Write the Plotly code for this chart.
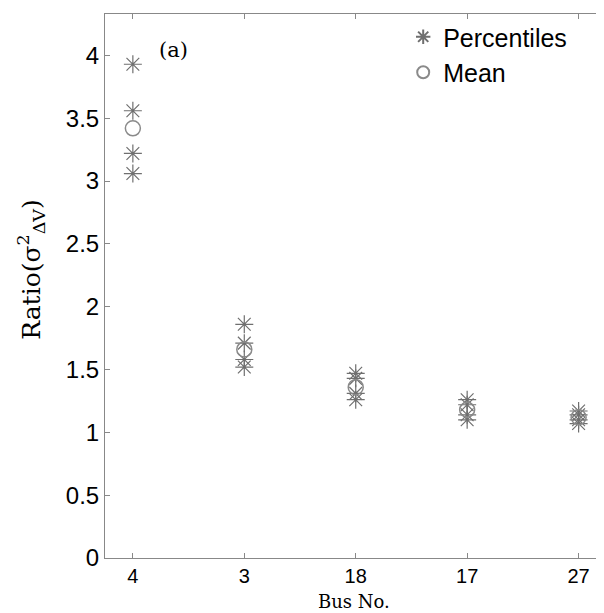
import plotly.graph_objects as go

bus_labels = ["4", "3", "18", "17", "27"]
percentile_values = [
    [3.93, 3.56, 3.22, 3.06],
    [1.86, 1.71, 1.58, 1.52],
    [1.47, 1.43, 1.31, 1.26],
    [1.26, 1.22, 1.14, 1.10],
    [1.17, 1.14, 1.10, 1.07],
]
mean_values = [3.42, 1.66, 1.36, 1.18, 1.12]
y_ticks = [0, 0.5, 1, 1.5, 2, 2.5, 3, 3.5, 4]

px, py = [], []
for i, vals in enumerate(percentile_values):
    for v in vals:
        px.append(i)
        py.append(v)

gray = "#6f6f6f"
fig = go.Figure()
fig.add_trace(go.Scatter(
    x=px, y=py, mode="markers", name="Percentiles",
    marker=dict(symbol="asterisk-open", size=15, line=dict(color=gray, width=1.2), color=gray),
))
fig.add_trace(go.Scatter(
    x=list(range(len(mean_values))), y=mean_values, mode="markers", name="Mean",
    marker=dict(symbol="circle-open", size=15, line=dict(color="#8a8a8a", width=1.5), color="#8a8a8a"),
))

fig.add_annotation(x=0.22, y=4.04, text="(a)", showarrow=False, xanchor="left",
                   font=dict(family="DejaVu Serif", size=21, color="black"))
fig.add_annotation(x=0.5, y=0, xref="paper", yref="paper", yshift=-55, text="Bus No.",
                   showarrow=False, xanchor="center", yanchor="bottom", borderpad=0,
                   font=dict(family="DejaVu Serif", size=18, color="black"))
fig.add_annotation(x=0, y=0.53, xref="paper", yref="paper", xshift=-74, text="Ratio(σ<sup>2</sup><sub>ΔV</sub>)",
                   showarrow=False, textangle=-90, xanchor="center", yanchor="middle",
                   font=dict(family="DejaVu Serif", size=25, color="black"))

axis_common = dict(showline=True, linecolor="#888888", linewidth=1, mirror="ticks",
                   ticks="inside", ticklen=5, tickcolor="#888888", showgrid=False, zeroline=False,
                   automargin=False)

# page body adds an 8px offset, so the figure is sized and placed to compensate
fig.update_layout(
    width=596, height=605,
    margin=dict(l=97, r=2, t=6, b=55),
    paper_bgcolor="white", plot_bgcolor="white",
    showlegend=True,
    legend=dict(x=0.6, y=1.0, xanchor="left", yanchor="top", bgcolor="rgba(0,0,0,0)",
                font=dict(family="Liberation Sans", size=25, color="black"),
                itemsizing="constant", tracegroupgap=0),
    xaxis=dict(range=[-0.25, 4.21], tickvals=list(range(len(bus_labels))), ticktext=bus_labels,
               ticklabelstandoff=0, tickfont=dict(family="Liberation Sans", size=20, color="black"),
               **axis_common),
    yaxis=dict(range=[0, 4.33], tickvals=y_ticks, ticktext=[f"{t:g}" for t in y_ticks],
               tickfont=dict(family="Liberation Sans", size=24, color="black"),
               **axis_common),
)
fig.write_html("out.html")
